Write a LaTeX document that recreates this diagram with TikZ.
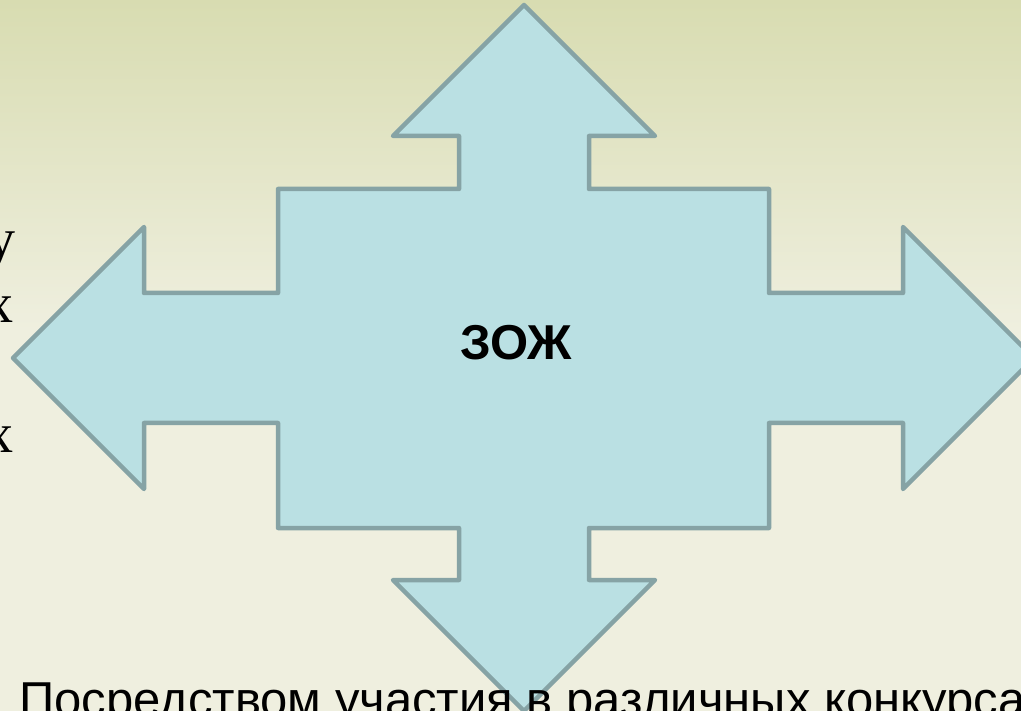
\documentclass[tikz,border=0pt]{standalone}
\usepackage{fontspec}
\setmainfont{Liberation Serif}
\setsansfont{Liberation Sans}
\definecolor{bgtop}{RGB}{216,220,177}
\definecolor{bgbot}{RGB}{239,239,223}
\definecolor{crossfill}{RGB}{186,224,227}
\definecolor{crossline}{RGB}{134,163,165}
\begin{document}
\begin{tikzpicture}[x=1pt,y=-1pt,every node/.style={inner sep=0pt},
        cross/.style={fill=crossfill,draw=crossline,line width=4.5pt,line join=round},
        edgetext/.style={font=\fontsize{56}{65}\selectfont,anchor=base east}]
       \useasboundingbox(0,0)rectangle(1021,711);
       \clip(0,0)rectangle(1021,711);
       % background
       \fill[bgbot](0,0)rectangle(1021,711);
       \shade[top color=bgtop,bottom color=bgbot](0,0)rectangle(1021,330);
       % cut-off line ends on the left
       \node[edgetext](l1)at(16,258){у};
       \node[edgetext](l2)at(14,323){х};
       \node[edgetext](l3)at(14,453){х};
       % four-way arrow
       \draw[cross](524,5)--(655,136)--(589,136)--(589,189)--(769,189)--(769,293)
        --(903,293)--(903,227)--(1034,358)--(903,489)--(903,423)--(769,423)
        --(769,528)--(589,528)--(589,580)--(655,580)--(524,711)--(393,580)
        --(459,580)--(459,528)--(278,528)--(278,423)--(144,423)--(144,489)
        --(13,358)--(144,227)--(144,293)--(278,293)--(278,189)--(459,189)
        --(459,136)--(393,136)--cycle;
       \node[font=\sffamily\bfseries\fontsize{49}{49}\selectfont](zozh)at(516,343){ЗОЖ};
       % cut-off line at the bottom
       \node[font=\sffamily\fontsize{49}{49}\selectfont,anchor=base west](bottom)at(19,716)
        {Посредством участия в различных конкурсах};
    \end{tikzpicture}
\end{document}
